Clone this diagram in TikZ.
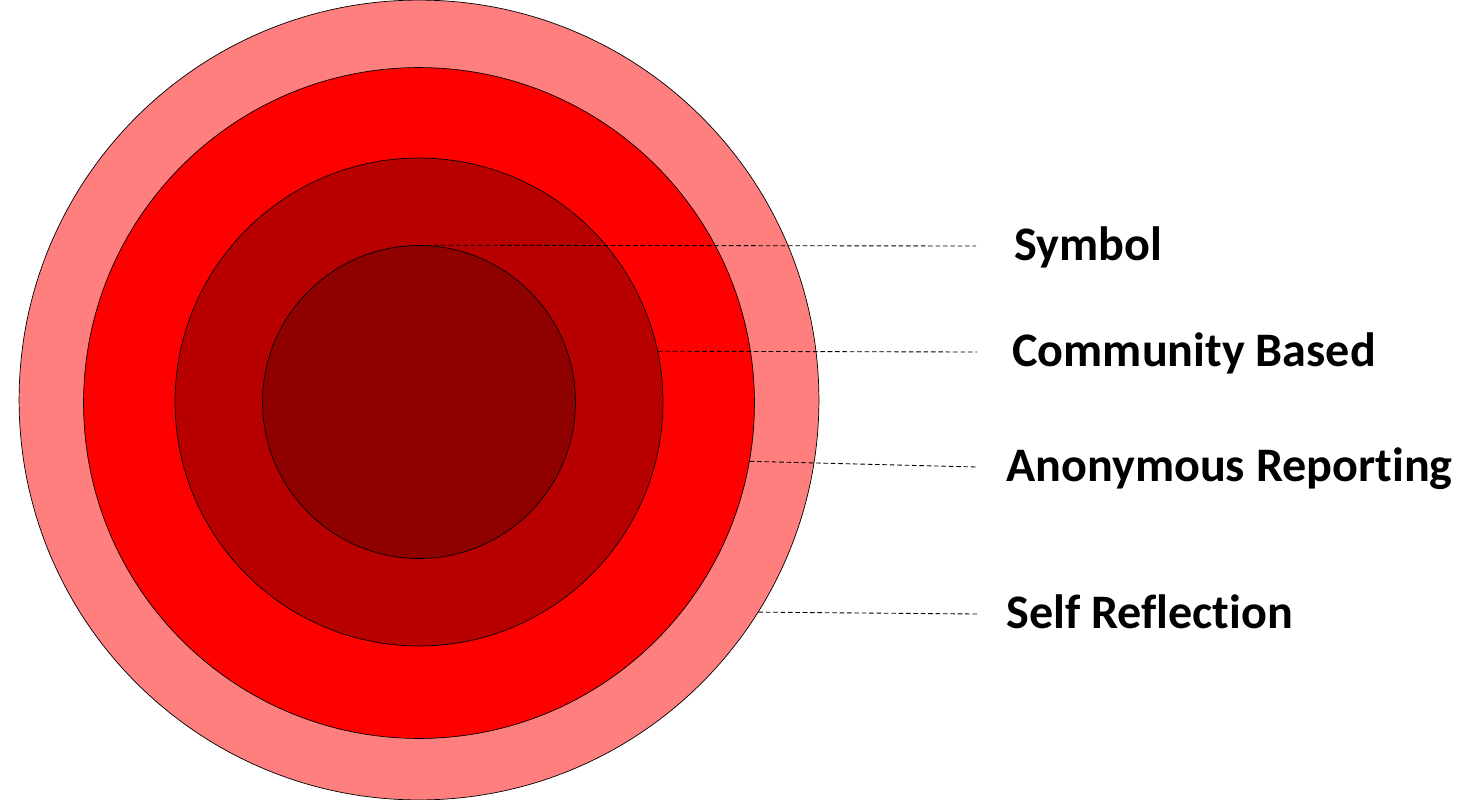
\documentclass[tikz,border=0pt]{standalone}
\usepackage{fontspec}
\setmainfont{Carlito}[Ligatures=NoCommon]
\usepackage{tikz}
\usetikzlibrary{
	positioning
}
\definecolor{ringpale}{RGB}{255,127,127}
\definecolor{ringred}{RGB}{255,0,0}
\definecolor{ringdark}{RGB}{184,0,0}
\definecolor{ringcore}{RGB}{143,0,0}

\begin{document}
\begin{tikzpicture}[
		x=0.02cm, y=-0.02cm,
		ring/.style={circle, draw, line width=0.4pt, inner sep=0pt},
		leader/.style={line width=0.5pt, dash pattern=on 2.6pt off 1.6pt},
		label text/.style={inner sep=0pt, anchor=west, text height=17pt, text depth=0pt,
			font=\fontsize{27.4}{32}\selectfont\bfseries}
		]
		
		\useasboundingbox (0,0) rectangle (1480,799);
		
		\node[ring, fill=ringpale, minimum size=16cm] (outer) at (419,400) {};
		\node[ring, fill=ringred, minimum size=13.42cm] (second) at (419,403) {};
		\node[ring, fill=ringdark, minimum size=9.76cm] (third) at (419,402) {};
		\node[ring, fill=ringcore, minimum size=6.26cm] (core) at (419,402) {};
		
		\coordinate (symbolend) at (976,246);
		\coordinate (communityend) at (977,352);
		\coordinate (anonymousend) at (977,467);
		\coordinate (selfend) at (977,614);
		
		\node[label text, right=0.76cm of symbolend] (symbol) {Symbol};
		\node[label text, right=0.7cm of communityend] (community) {Community Based};
		\node[label text, right=0.58cm of anonymousend] (anonymous) {Anonymous Reporting};
		\node[label text, right=0.58cm of selfend] (self) {Self Reflection};
		
		\draw[leader] (core.north) -- (symbolend);
		\draw[leader] (third.12) -- (communityend);
		\draw[leader] (second.-10) -- (anonymousend);
		\draw[leader] (outer.-32) -- (selfend);
		
	\end{tikzpicture}
\end{document}
